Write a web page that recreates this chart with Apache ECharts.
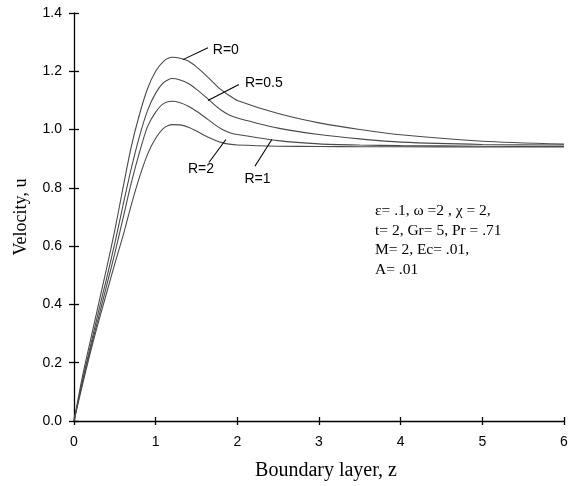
<!DOCTYPE html>
<html>
<head>
<meta charset="utf-8">
<script src="https://cdn.jsdelivr.net/npm/echarts@6/dist/echarts.min.js"></script>
<style>
html,body{margin:0;padding:0;background:#fff;}
#chart{width:578px;height:486px;}
</style>
</head>
<body>
<div id="chart"></div>
<script>
// Boundary layer positions z
var zValues = [0,0.1,0.2,0.3,0.4,0.5,0.6,0.7,0.8,0.9,1.0,1.1,1.2,1.3,1.4,1.5,1.6,1.7,1.8,1.9,2.0,2.5,3,3.5,4,5,6];
// Velocity u for each R
var uR0  = [0,0.148,0.275,0.40,0.525,0.655,0.80,0.94,1.05,1.14,1.20,1.235,1.248,1.245,1.235,1.215,1.19,1.163,1.137,1.117,1.10,1.055,1.023,1.0,0.982,0.96,0.95];
var uR05 = [0,0.135,0.255,0.375,0.49,0.61,0.74,0.865,0.975,1.065,1.125,1.162,1.175,1.17,1.158,1.138,1.115,1.09,1.067,1.05,1.04,1.005,0.983,0.968,0.957,0.949,0.947];
var uR1  = [0,0.13,0.245,0.355,0.465,0.575,0.695,0.815,0.92,1.01,1.06,1.09,1.097,1.092,1.08,1.063,1.043,1.022,1.003,0.99,0.983,0.962,0.951,0.947,0.945,0.943,0.942];
var uR2  = [0,0.12,0.235,0.34,0.44,0.54,0.635,0.74,0.835,0.915,0.97,1.005,1.017,1.016,1.008,0.995,0.98,0.967,0.956,0.95,0.947,0.943,0.942,0.941,0.941,0.940,0.940];
var seriesNames = ['R=0','R=0.5','R=1','R=2'];
var xTicks = [0,1,2,3,4,5,6];
var yTicks = [0,0.2,0.4,0.6,0.8,1.0,1.2,1.4];
// label annotation: leader line start (on curve), end, label anchor (data coords)
var leaderStart = [[1.334,1.240],[1.640,1.100],[2.423,0.966],[1.860,0.966]];
var leaderEnd   = [[1.640,1.281],[2.020,1.155],[2.215,0.874],[1.652,0.887]];
var labelAnchor = [[1.70,1.274],[2.093,1.161],[2.246,0.829],[1.555,0.863]];
var labelAlign  = ['left','left','center','center'];
var paramText = 'ε= .1, ω =2 , χ = 2,\nt= 2, Gr= 5, Pr = .71\nM= 2, Ec= .01,\nA= .01';

var allU = [uR0,uR05,uR1,uR2];
var chart = echarts.init(document.getElementById('chart'), null, {renderer:'canvas'});
var lineColor = '#4a4a4a';
var series = allU.map(function(arr, i){
  return {
    name: seriesNames[i],
    type: 'line',
    data: zValues.map(function(z,k){ return [z, arr[k]]; }),
    showSymbol: false,
    symbol: 'none',
    smooth: 0.25,
    lineStyle: {color: lineColor, width: 1.1},
    silent: true,
    markLine: {
      silent: true,
      symbol: ['none','none'],
      label: {show: false},
      lineStyle: {color: '#000', width: 1.1, type: 'solid'},
      data: [[{coord: leaderStart[i]}, {coord: leaderEnd[i]}]]
    },
    markPoint: {
      silent: true,
      symbol: 'circle',
      symbolSize: 1,
      itemStyle: {color: 'rgba(0,0,0,0)'},
      label: {
        show: true,
        position: 'inside',
        formatter: seriesNames[i],
        color: '#000',
        fontFamily: 'Liberation Sans, Arial, sans-serif',
        fontSize: 14,
        align: labelAlign[i],
        verticalAlign: 'middle'
      },
      data: [{coord: labelAnchor[i]}]
    }
  };
});

var axisCommonX = {
  type: 'value', min: 0, max: 6, interval: 1
};
var option = {
  animation: false,
  backgroundColor: '#fff',
  grid: {left: 74, right: 14, top: 13, bottom: 64, containLabel: false},
  xAxis: [
    Object.assign({}, axisCommonX, {
      position: 'bottom',
      name: 'Boundary layer, z',
      nameLocation: 'middle',
      nameGap: 40,
      nameTextStyle: {fontFamily: 'Liberation Serif, Times New Roman, serif', fontSize: 20, color: '#000', padding: [0,0,0,14]},
      axisLine: {show: true, onZero: false, lineStyle: {color: '#000', width: 1.3}},
      axisTick: {show: true, inside: false, length: 4, lineStyle: {color: '#000', width: 1.3}},
      axisLabel: {show: true, margin: 14, color: '#000', fontFamily: 'Liberation Sans, Arial, sans-serif', fontSize: 14,
        formatter: function(v){ return xTicks.indexOf(v) >= 0 ? String(v) : ''; }},
      splitLine: {show: false}
    }),
    Object.assign({}, axisCommonX, {
      position: 'bottom',
      axisLine: {show: false, onZero: false},
      axisTick: {show: true, inside: true, length: 4, lineStyle: {color: '#000', width: 1.3}},
      axisLabel: {show: false},
      splitLine: {show: false}
    })
  ],
  yAxis: [
    {
      type: 'value', min: 0, max: 1.4, interval: 0.2, position: 'left',
      name: 'Velocity, u',
      nameLocation: 'middle',
      nameGap: 44,
      nameTextStyle: {fontFamily: 'Liberation Serif, Times New Roman, serif', fontSize: 18, color: '#000'},
      axisLine: {show: true, onZero: false, lineStyle: {color: '#000', width: 1.3}},
      axisTick: {show: true, inside: false, length: 5, lineStyle: {color: '#000', width: 1.3}},
      axisLabel: {show: true, margin: 12, color: '#000', fontFamily: 'Liberation Sans, Arial, sans-serif', fontSize: 14,
        formatter: function(v){ return v.toFixed(1); }},
      splitLine: {show: false}
    },
    {
      type: 'value', min: 0, max: 1.4, interval: 0.2, position: 'left',
      axisLine: {show: false, onZero: false},
      axisTick: {show: true, inside: true, length: 5, lineStyle: {color: '#000', width: 1.3}},
      axisLabel: {show: false},
      splitLine: {show: false}
    }
  ],
  graphic: [
    {
      type: 'text',
      left: 375,
      top: 201,
      silent: true,
      style: {
        text: paramText,
        fill: '#000',
        font: '15.5px "Liberation Serif", "Times New Roman", serif',
        lineHeight: 19.7
      }
    }
  ],
  series: series
};
chart.setOption(option);
</script>
</body>
</html>
